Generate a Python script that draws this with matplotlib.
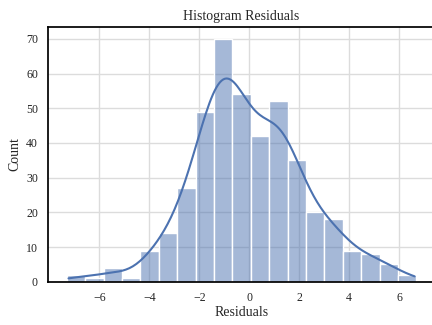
import numpy as np
import matplotlib
matplotlib.use("Agg")
import matplotlib.pyplot as plt
import seaborn as sns

# histogram: 19 equal bins
bin_lo = -7.31
bin_hi = 6.69
counts = [2, 1, 4, 1, 9, 14, 27, 49, 70, 54, 42, 52, 35, 20, 18, 9, 8, 5, 2]

edges = np.linspace(bin_lo, bin_hi, len(counts) + 1)
centers = (edges[:-1] + edges[1:]) / 2
# one sample per counted value at its bin centre (used for the kde)
residuals = np.repeat(centers, counts)

sns.set_theme(style="white")
plt.rcParams["font.family"] = ["Liberation Serif", "DejaVu Serif"]
plt.rcParams["axes.edgecolor"] = "black"
plt.rcParams["axes.linewidth"] = 1.25

fig = plt.figure(figsize=(4.32, 3.25), dpi=100)
ax = fig.add_axes([0.1118, 0.133, 0.893, 0.785])

sns.histplot(x=residuals, bins=edges, kde=True, ax=ax,
             color="#4c72b0", edgecolor="white", linewidth=1.0, alpha=0.5,
             kde_kws={"cut": 0.45}, line_kws={"linewidth": 1.5})

ax.grid(True, color="#dcdcdc", linewidth=1.0)
ax.set_axisbelow(True)
ax.set_xlim(-8.05, 7.4)
ax.set_ylim(0, 73.5)
ax.set_xticks([-6, -4, -2, 0, 2, 4, 6])
ax.set_yticks(range(0, 71, 10))
ax.tick_params(length=0, pad=7.5, labelsize=8.6)
ax.set_title("Histogram Residuals", fontsize=10, pad=5)
ax.set_xlabel("Residuals", fontsize=10, labelpad=1)
ax.set_ylabel("Count", fontsize=10, labelpad=3)

fig.savefig("out.png", dpi=100)
